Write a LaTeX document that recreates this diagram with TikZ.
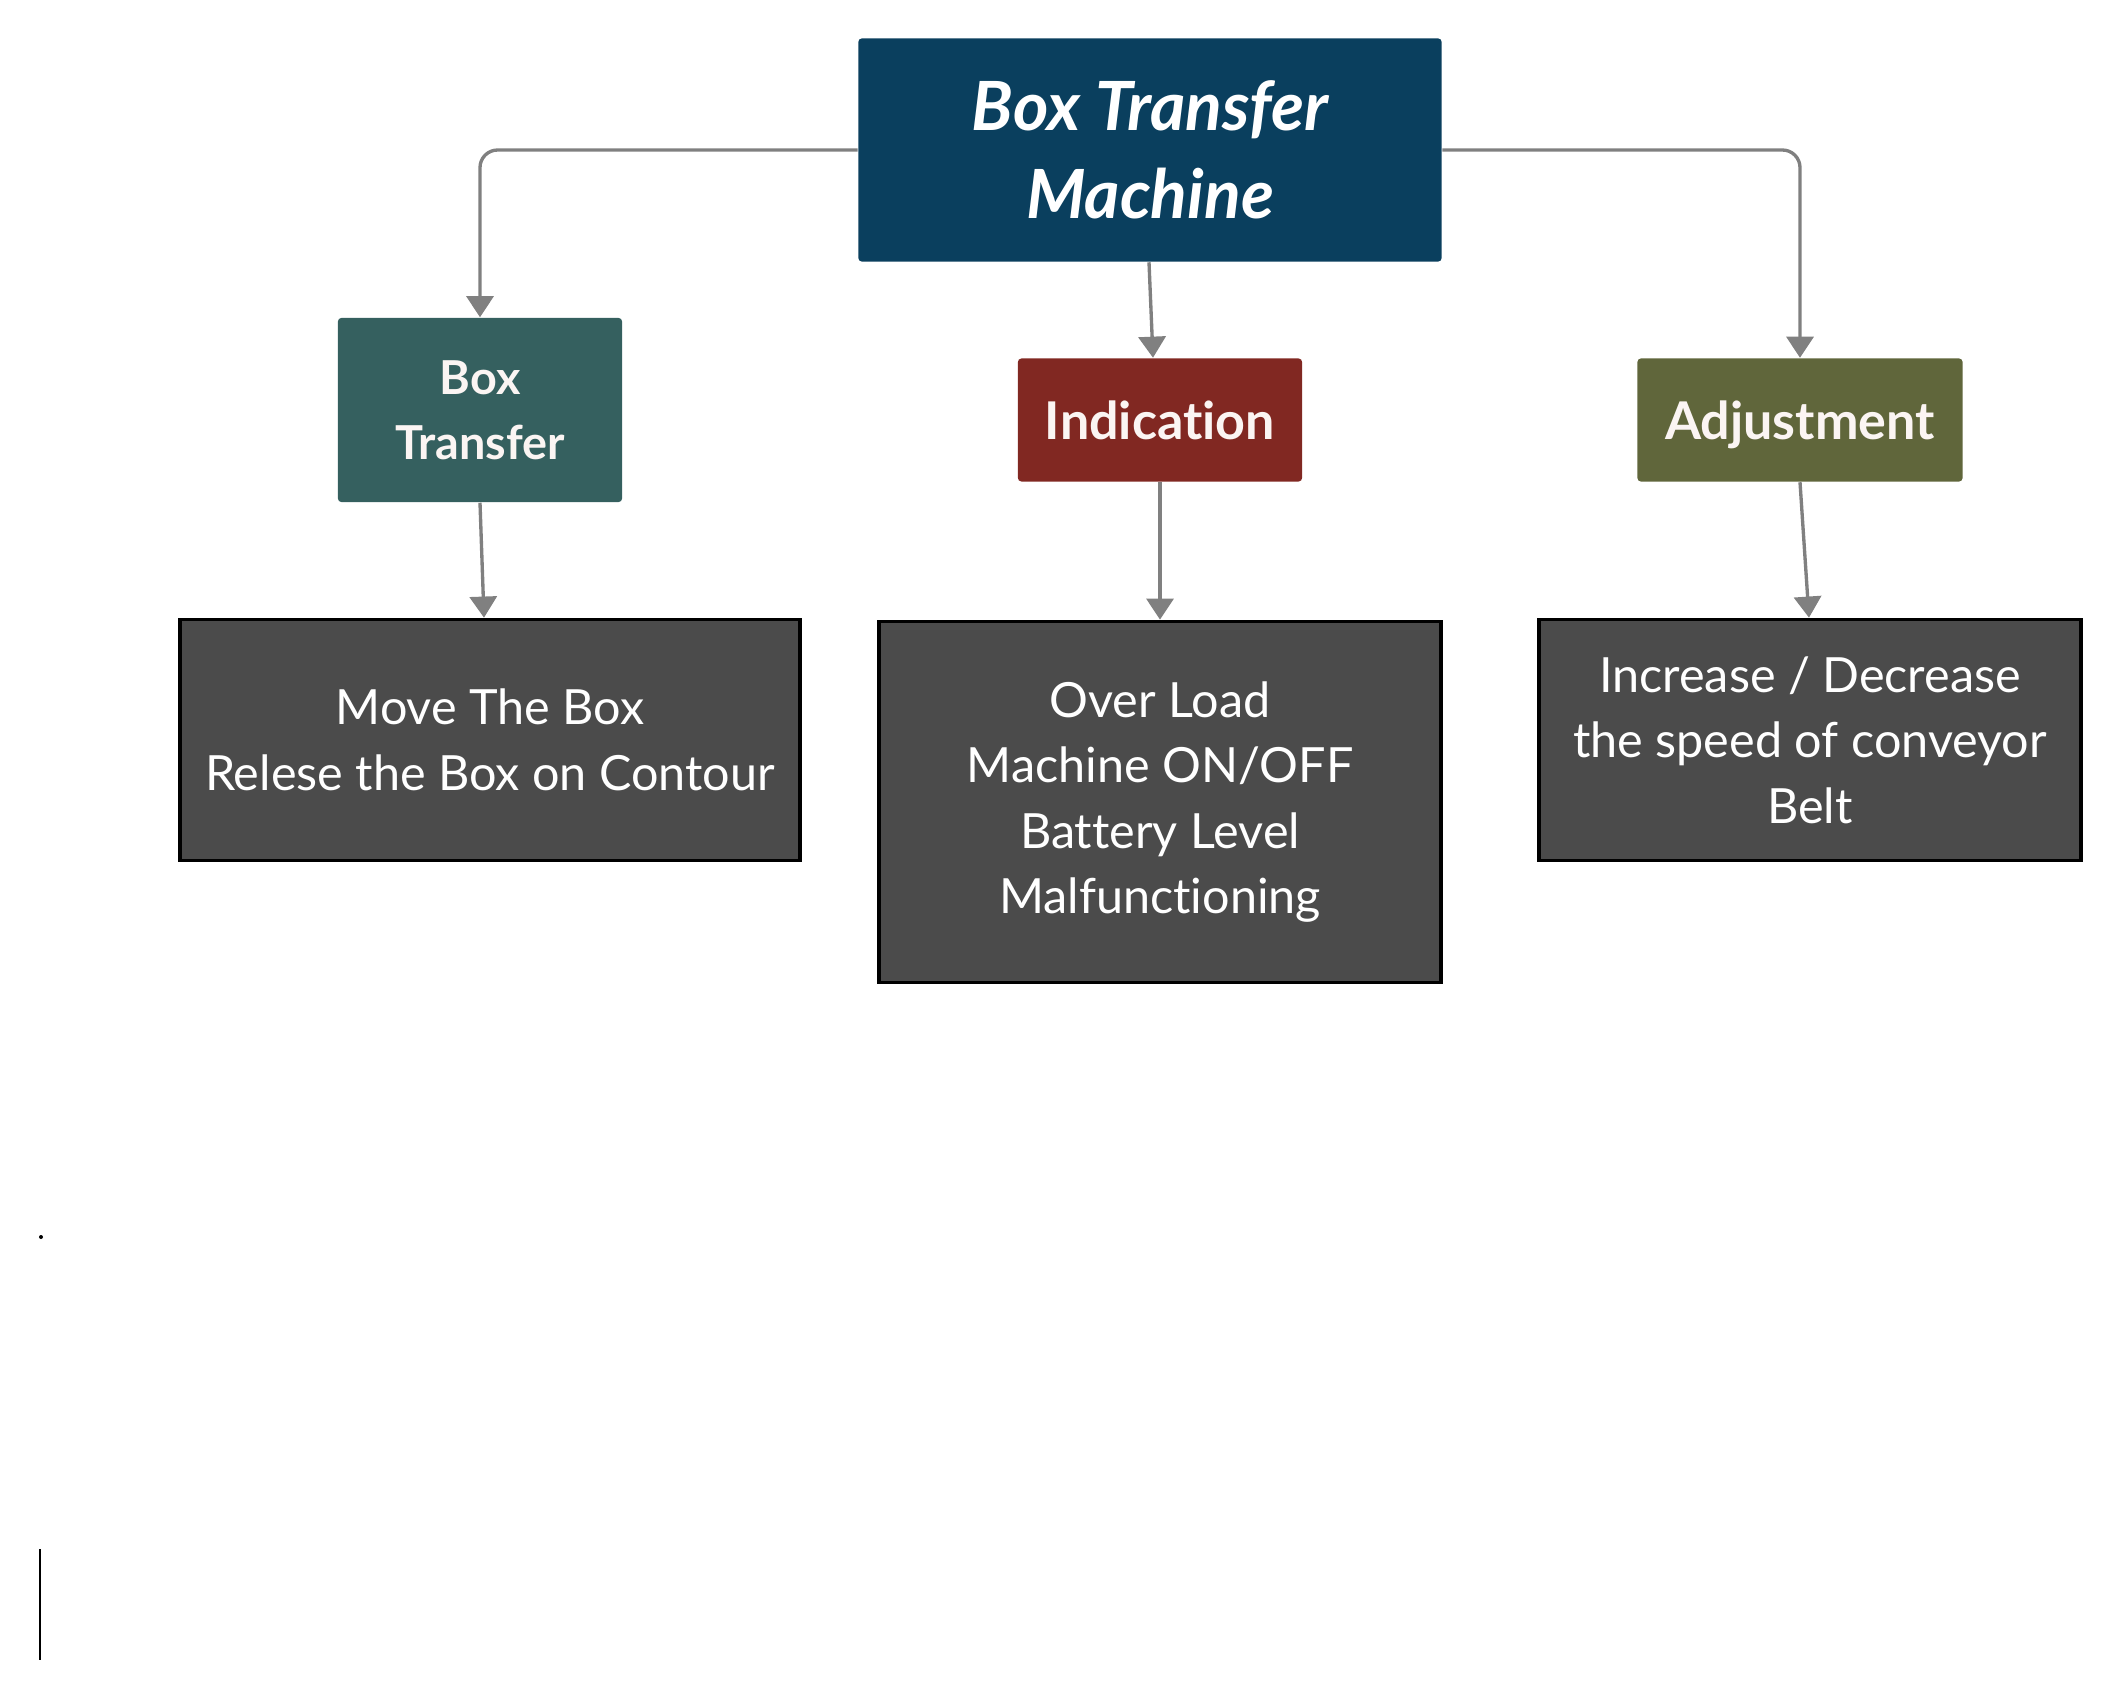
\documentclass[tikz,border=0pt]{standalone}
\usepackage{fontspec}
\setmainfont{Lato}[Ligatures={TeX,NoCommon}]
\usetikzlibrary{arrows.meta}

\definecolor{rootblue}{HTML}{0A3F5E}
\definecolor{tealbox}{HTML}{35605F}
\definecolor{redbox}{HTML}{812822}
\definecolor{olivebox}{HTML}{60663B}
\definecolor{leafgrey}{HTML}{4B4B4B}
\definecolor{linkgrey}{HTML}{808080}
\definecolor{offwhite}{HTML}{FBF5F3}

\tikzset{
  block/.style={rectangle, rounded corners=1pt, inner sep=0pt, align=center,
    text=offwhite, font=\bfseries\fontsize{14.8}{18.5}\selectfont},
  oneline/.style={text height=1.1em, text depth=0pt},
  leaf/.style={rectangle, draw=black, line width=1pt, fill=leafgrey, text=white,
    align=center, inner sep=0pt, font=\fontsize{13.8}{18.6}\selectfont},
  link/.style={draw=linkgrey, line width=0.95pt, rounded corners=5pt,
    -{Triangle[width=7.7pt,length=6pt]}}
}

\begin{document}
\begin{tikzpicture}[x=0.01cm,y=-0.01cm]
      \useasboundingbox (0,0) rectangle (2120,1700);
      % root
      \node[block, fill=rootblue, minimum width=5.83cm, minimum height=2.23cm,
        font=\bfseries\itshape\fontsize{19.3}{25}\selectfont, text=white]
        (root) at (1150,150) {Box Transfer\\Machine};
      % second row
      \node[block, fill=tealbox, minimum width=2.84cm, minimum height=1.84cm,
        font=\bfseries\fontsize{13.3}{18.5}\selectfont]
        (transfer) at (480,410) {Box\\Transfer};
      \node[block, oneline, fill=redbox, minimum width=2.84cm, minimum height=1.23cm]
        (indic) at (1160,420) {Indication};
      \node[block, oneline, fill=olivebox, minimum width=3.25cm, minimum height=1.23cm]
        (adjust) at (1800,420) {Adjustment};
      % third row
      \node[leaf, minimum width=6.2cm, minimum height=2.41cm]
        (moves) at (490,740) {Move The Box\\Relese the Box on Contour};
      \node[leaf, minimum width=5.62cm, minimum height=3.61cm]
        (alerts) at (1160,802) {Over Load\\Machine ON/OFF\\Battery Level\\Malfunctioning};
      \node[leaf, minimum width=5.42cm, minimum height=2.41cm]
        (speed) at (1810,740) {Increase / Decrease\\the speed of conveyor\\Belt};
      % elbow links
      \draw[link] (root.west) -| (transfer.north);
      \draw[link] (root.east) -| (adjust.north);
      % straight links
      \draw[link] ([xshift=-0.01cm]root.south) -- ([xshift=-0.07cm]indic.north);
      \draw[link] (transfer.south) -- ([xshift=-0.06cm]moves.north);
      \draw[link] (indic.south) -- (alerts.north);
      \draw[link] (adjust.south) -- ([xshift=-0.01cm]speed.north);
      % stray marks
      \fill (41,1237) circle (0.02cm);
      \draw[line width=0.85pt] (40,1549) -- (40,1660);
\end{tikzpicture}
\end{document}
